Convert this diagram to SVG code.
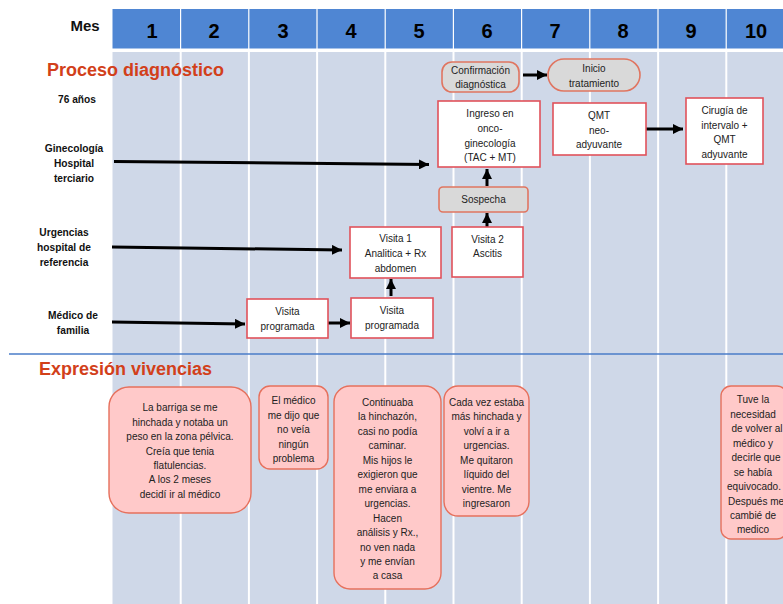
<svg xmlns="http://www.w3.org/2000/svg" width="783" height="604" viewBox="0 0 783 604">
<style>
.hdr{fill:#4f86d3}
.col{fill:#cfd8e8}
.num{font-family:"Liberation Sans",Arial,sans-serif;font-weight:bold;font-size:20px;fill:#000;text-anchor:middle}
.lab{font-family:"Liberation Sans",Arial,sans-serif;font-weight:bold;font-size:10.2px;fill:#111;text-anchor:middle}
.ttl{font-family:"Liberation Sans",Arial,sans-serif;font-weight:bold;font-size:18px;fill:#d2401a}
.t{font-family:"Liberation Sans",Arial,sans-serif;font-size:10px;fill:#222;text-anchor:middle}
.box{fill:#fff;stroke:#e0525a;stroke-width:1.6}
.gbox{fill:#d9d9d9;stroke:#e07560;stroke-width:1.6}
.pbox{fill:#ffc9c9;stroke:#e6705c;stroke-width:1.4}
.arr{stroke:#000;stroke-width:3;fill:none;marker-end:url(#ah)}
</style>
<defs>
<marker id="ah" markerUnits="userSpaceOnUse" markerWidth="10" markerHeight="10" refX="10" refY="5" orient="auto">
<path d="M0,0 L10,5 L0,10 Z" fill="#000"/>
</marker>
</defs>
<rect width="783" height="604" fill="#fff"/>
<g id="grid">
<rect class="col" x="112.5" y="52" width="67.2" height="552"/>
<rect class="col" x="181.7" y="52" width="66.2" height="552"/>
<rect class="col" x="249.9" y="52" width="66.2" height="552"/>
<rect class="col" x="318.1" y="52" width="66.2" height="552"/>
<rect class="col" x="386.3" y="52" width="66.2" height="552"/>
<rect class="col" x="454.5" y="52" width="66.2" height="552"/>
<rect class="col" x="522.7" y="52" width="66.2" height="552"/>
<rect class="col" x="590.9" y="52" width="66.2" height="552"/>
<rect class="col" x="659.1" y="52" width="66.2" height="552"/>
<rect class="col" x="727.3" y="52" width="60" height="552"/>
<rect class="hdr" x="112.5" y="9" width="67.5" height="39.5"/>
<rect class="hdr" x="181.2" y="9" width="67" height="39.5"/>
<rect class="hdr" x="249.4" y="9" width="67" height="39.5"/>
<rect class="hdr" x="317.6" y="9" width="67" height="39.5"/>
<rect class="hdr" x="385.8" y="9" width="67" height="39.5"/>
<rect class="hdr" x="454" y="9" width="67" height="39.5"/>
<rect class="hdr" x="522.2" y="9" width="67" height="39.5"/>
<rect class="hdr" x="590.4" y="9" width="67" height="39.5"/>
<rect class="hdr" x="658.6" y="9" width="67" height="39.5"/>
<rect class="hdr" x="726.8" y="9" width="60" height="39.5"/>
<text class="lab" x="85" y="31" style="font-size:15px">Mes</text>
<text class="num" x="152" y="38">1</text>
<text class="num" x="214" y="38">2</text>
<text class="num" x="283" y="38">3</text>
<text class="num" x="351" y="38">4</text>
<text class="num" x="419" y="38">5</text>
<text class="num" x="487" y="38">6</text>
<text class="num" x="555" y="38">7</text>
<text class="num" x="623" y="38">8</text>
<text class="num" x="691" y="38">9</text>
<text class="num" x="756" y="38">10</text>
<line x1="9" y1="354" x2="783" y2="354" stroke="#4a7cc8" stroke-width="1.5"/>
</g>
<g id="titles">
<text class="ttl" x="47" y="76">Proceso diagnóstico</text>
<text class="ttl" x="39" y="375">Expresión vivencias</text>
</g>
<g id="labels">
<text class="lab" x="77" y="103">76 años</text>
<text class="lab" x="74" y="152">Ginecología</text>
<text class="lab" x="74" y="167">Hospital</text>
<text class="lab" x="74" y="182">terciario</text>
<text class="lab" x="64" y="236">Urgencias</text>
<text class="lab" x="64" y="251">hospital de</text>
<text class="lab" x="64" y="266">referencia</text>
<text class="lab" x="73" y="319">Médico de</text>
<text class="lab" x="73" y="334">familia</text>
</g>
<g id="connectors">
<line class="arr" x1="114" y1="161.5" x2="429" y2="164.5"/>
<line class="arr" x1="112" y1="247" x2="342" y2="250"/>
<line class="arr" x1="112" y1="322" x2="245" y2="324"/>
<line class="arr" x1="326" y1="323" x2="350" y2="323"/>
<line class="arr" x1="391" y1="296" x2="391" y2="279"/>
<line class="arr" x1="523" y1="75" x2="547" y2="75"/>
<line class="arr" x1="487" y1="186" x2="487" y2="169"/>
<line class="arr" x1="487" y1="227" x2="487" y2="213"/>
<line class="arr" x1="643" y1="129" x2="683" y2="129"/>
</g>
<g id="n-visita-prog-1">
<rect class="box" x="247" y="299" width="81" height="39"/>
<text class="t" x="287.5" y="315">Visita</text>
<text class="t" x="287.5" y="330">programada</text>
</g>
<g id="n-visita-prog-2">
<rect class="box" x="351" y="298" width="82" height="40"/>
<text class="t" x="392" y="314">Visita</text>
<text class="t" x="392" y="329">programada</text>
</g>
<g id="n-visita-1">
<rect class="box" x="350" y="227" width="91" height="51"/>
<text class="t" x="395.5" y="242">Visita 1</text>
<text class="t" x="395.5" y="257">Analitica + Rx</text>
<text class="t" x="395.5" y="272">abdomen</text>
</g>
<g id="n-visita-2">
<rect class="box" x="452" y="227" width="71" height="50"/>
<text class="t" x="487.5" y="243">Visita 2</text>
<text class="t" x="487.5" y="257">Ascitis</text>
</g>
<g id="n-sospecha">
<rect class="gbox" x="439" y="187" width="89" height="25" rx="4"/>
<text class="t" x="483.5" y="203">Sospecha</text>
</g>
<g id="n-ingreso">
<rect class="box" x="438" y="101" width="102" height="66"/>
<text class="t" x="490" y="117">Ingreso en</text>
<text class="t" x="490" y="132">onco-</text>
<text class="t" x="490" y="147">ginecología</text>
<text class="t" x="490" y="161">(TAC + MT)</text>
</g>
<g id="n-confirmacion">
<rect class="gbox" x="442" y="62" width="77" height="30" rx="10"/>
<text class="t" x="480.5" y="74">Confirmación</text>
<text class="t" x="480.5" y="88">diagnóstica</text>
</g>
<g id="n-inicio">
<rect class="gbox" x="548" y="59" width="92" height="32" rx="16"/>
<text class="t" x="594" y="72">Inicio</text>
<text class="t" x="594" y="87">tratamiento</text>
</g>
<g id="n-qmt">
<rect class="box" x="553" y="103" width="93" height="52"/>
<text class="t" x="599" y="119">QMT</text>
<text class="t" x="599" y="134">neo-</text>
<text class="t" x="599" y="148">adyuvante</text>
</g>
<g id="n-cirugia">
<rect class="box" x="686" y="98" width="77" height="66"/>
<text class="t" x="724.5" y="114">Cirugía de</text>
<text class="t" x="724.5" y="129">intervalo +</text>
<text class="t" x="724.5" y="143">QMT</text>
<text class="t" x="724.5" y="158">adyuvante</text>
</g>
<g id="v1">
<rect class="pbox" x="109" y="387" width="142" height="126" rx="20"/>
<text class="t" x="180" y="411">La barriga se me</text>
<text class="t" x="180" y="426">hinchada y notaba un</text>
<text class="t" x="180" y="440">peso en la zona pélvica.</text>
<text class="t" x="180" y="455">Creía que tenia</text>
<text class="t" x="180" y="469">flatulencias.</text>
<text class="t" x="180" y="483">A los 2 meses</text>
<text class="t" x="180" y="498">decidí ir al médico</text>
</g>
<g id="v2">
<rect class="pbox" x="259" y="386" width="69" height="83" rx="11"/>
<text class="t" x="293.5" y="404">El médico</text>
<text class="t" x="293.5" y="419">me dijo que</text>
<text class="t" x="293.5" y="433">no veía</text>
<text class="t" x="293.5" y="448">ningún</text>
<text class="t" x="293.5" y="462">problema</text>
</g>
<g id="v3">
<rect class="pbox" x="334" y="386" width="107" height="203" rx="16"/>
<text class="t" x="387.5" y="406">Continuaba</text>
<text class="t" x="387.5" y="420">la hinchazón,</text>
<text class="t" x="387.5" y="435">casi no podía</text>
<text class="t" x="387.5" y="449">caminar.</text>
<text class="t" x="387.5" y="464">Mis hijos le</text>
<text class="t" x="387.5" y="478">exigieron que</text>
<text class="t" x="387.5" y="493">me enviara a</text>
<text class="t" x="387.5" y="507">urgencias.</text>
<text class="t" x="387.5" y="522">Hacen</text>
<text class="t" x="387.5" y="536">análisis y Rx.,</text>
<text class="t" x="387.5" y="551">no ven nada</text>
<text class="t" x="387.5" y="565">y me envían</text>
<text class="t" x="387.5" y="579">a casa</text>
</g>
<g id="v4">
<rect class="pbox" x="444" y="386" width="85" height="130" rx="14"/>
<text class="t" x="486.5" y="406">Cada vez estaba</text>
<text class="t" x="486.5" y="420">más hinchada y</text>
<text class="t" x="486.5" y="435">volví a ir a</text>
<text class="t" x="486.5" y="449">urgencias.</text>
<text class="t" x="486.5" y="464">Me quitaron</text>
<text class="t" x="486.5" y="478">líquido del</text>
<text class="t" x="486.5" y="493">vientre. Me</text>
<text class="t" x="486.5" y="507">ingresaron</text>
</g>
<g id="v5">
<rect class="pbox" x="721" y="386" width="66" height="153" rx="10"/>
<text class="t" x="753" y="403">Tuve la</text>
<text class="t" x="753" y="418">necesidad</text>
<text class="t" x="757" y="432">de volver al</text>
<text class="t" x="753" y="447">médico y</text>
<text class="t" x="756" y="461">decirle que</text>
<text class="t" x="753" y="476">se había</text>
<text class="t" x="754" y="490">equivocado.</text>
<text class="t" x="756" y="505">Después me</text>
<text class="t" x="753" y="519">cambié de</text>
<text class="t" x="753" y="533">medico</text>
</g>
</svg>
